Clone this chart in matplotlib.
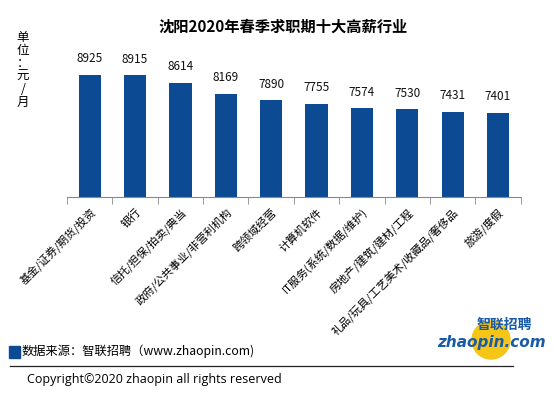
import matplotlib.pyplot as plt
from matplotlib.patches import Ellipse, Rectangle
from matplotlib.lines import Line2D

plt.rcParams['font.family'] = ['Noto Sans CJK SC', 'DejaVu Sans']

industries = ['基金/证券/期货/投资', '银行', '信托/担保/拍卖/典当', '政府/公共事业/非营利机构',
              '跨领域经营', '计算机软件', 'IT服务(系统/数据/维护)', '房地产/建筑/建材/工程',
              '礼品/玩具/工艺美术/收藏品/奢侈品', '旅游/度假']
salary = [8925, 8915, 8614, 8169, 7890, 7755, 7574, 7530, 7431, 7401]

W, H = 554, 396
fig = plt.figure(figsize=(W / 100, H / 100), dpi=100)

def px(x, y):
    return x / W, 1 - y / H

ax = fig.add_axes([67 / W, 1 - 196.7 / H, (520.7 - 67) / W, (196.7 - 48.3) / H])
xs = list(range(len(salary)))
ax.bar(xs, salary, width=0.49, color='#0D4A94')
ax.set_ylim(4000, 10000)
ax.set_xlim(-0.5, len(salary) - 0.5)
for x, v in zip(xs, salary):
    ax.text(x, v + 380, str(v), ha='center', va='bottom', fontsize=8.5, color='#111111')

for s in ['top', 'left', 'right']:
    ax.spines[s].set_visible(False)
ax.spines['bottom'].set_color('#888888')
ax.set_yticks([])
ax.set_xticks(xs)
ax.set_xticklabels(industries, rotation=45, ha='right', rotation_mode='anchor', fontsize=8)
ax.tick_params(axis='x', which='major', length=0, pad=7)
ax.set_xticks([x - 0.5 for x in range(len(salary) + 1)], minor=True)
ax.tick_params(axis='x', which='minor', length=5, color='#888888')

fig.text(*px(283, 27), '沈阳2020年春季求职期十大高薪行业', ha='center', va='center',
         fontsize=11, fontweight='bold')
fig.text(*px(23, 70), '\n'.join('单位：元/月'), ha='center', va='center', fontsize=9,
         linespacing=1.0)

# footer
fig.patches.append(Rectangle(px(9, 358), 11 / W, 12 / H, transform=fig.transFigure,
                             color='#0D4A94'))
fig.text(*px(22, 351), '数据来源：智联招聘（www.zhaopin.com)', ha='left', va='center', fontsize=8.8)
fig.lines.append(Line2D([10 / W, 513 / W], [1 - 366 / H] * 2, transform=fig.transFigure,
                        color='#222222', lw=0.9))
fig.text(*px(27, 379), 'Copyright©2020 zhaopin all rights reserved', ha='left', va='center',
         fontsize=9, family=['Open Sans', 'DejaVu Sans'])

# logo
fig.patches.append(Ellipse(px(491, 340), 38 / W, 38 / H, transform=fig.transFigure,
                           color='#F5C518', zorder=1))
fig.text(*px(504, 325), '智联招聘', ha='center', va='center', fontsize=10,
         fontweight='bold', color='#1A5BA8', style='italic', zorder=2)
fig.text(*px(491, 343), 'zhaopin.com', ha='center', va='center', fontsize=11,
         fontweight='bold', color='#1A5BA8', style='italic',
         family=['DejaVu Sans'], zorder=2)

fig.savefig('out.png', dpi=100)
